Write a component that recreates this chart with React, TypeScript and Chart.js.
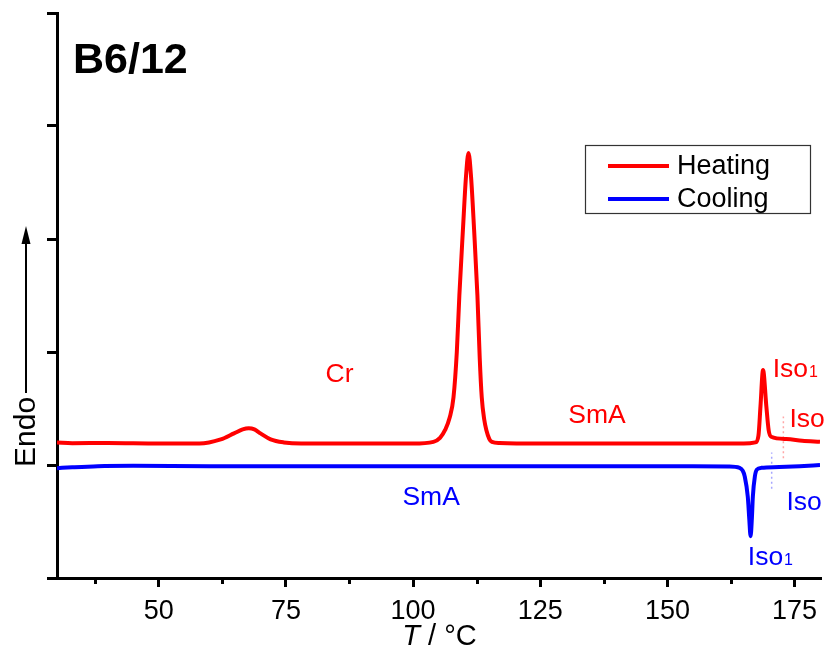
import React, { useEffect, useRef } from "react";
import { Chart, registerables } from "chart.js";

Chart.register(...registerables);

// ---------- data ----------
const seriesLabels = ["Heating", "Cooling"];

const heatT = [
  30, 33, 40, 50, 58, 62.2, 64.8, 66.5, 67.7, 68.8, 70.0, 72.0, 74.6, 78, 90,
  100, 104, 105.3, 106.3, 107.2, 107.95, 108.6, 109.1, 109.8, 110.4, 110.9,
  111.4, 112.0, 112.65, 113.1, 113.5, 114.0, 114.4, 115.0, 115.5, 117, 125,
  140, 155, 165, 167.3, 167.9, 168.3, 168.8, 169.45, 169.9, 170.4, 173.4,
  176.5, 180,
];
const heatV = [
  1.2, 1.193, 1.195, 1.19, 1.19, 1.227, 1.28, 1.315, 1.325, 1.315, 1.28, 1.227,
  1.2, 1.19, 1.19, 1.19, 1.205, 1.24, 1.31, 1.42, 1.6, 2.0, 2.5, 3.08, 3.55,
  3.76, 3.55, 3.08, 2.5, 1.95, 1.6, 1.4, 1.31, 1.23, 1.205, 1.195, 1.19, 1.19,
  1.19, 1.19, 1.2, 1.26, 1.52, 1.84, 1.52, 1.31, 1.25, 1.23, 1.215, 1.205,
];

const coolT = [
  30, 33, 38, 45, 60, 80, 100, 120, 140, 155, 162, 164.2, 164.8, 165.2, 165.8,
  166.1, 166.35, 166.6, 166.8, 167.2, 167.6, 168.5, 172, 176, 180,
];
const coolV = [
  0.972, 0.98, 0.99, 0.993, 0.99, 0.99, 0.99, 0.99, 0.99, 0.99, 0.987, 0.975,
  0.95, 0.9, 0.72, 0.52, 0.37, 0.52, 0.72, 0.9, 0.96, 0.975, 0.982, 0.99, 1.0,
];

// faint dotted transition markers
const heatMarkT = [172.8, 172.8];
const heatMarkV = [1.06, 1.43];
const coolMarkT = [170.5, 170.5];
const coolMarkV = [0.79, 1.11];

const xMajorTicks = [50, 75, 100, 125, 150, 175];
const xMinorTicks = [37.5, 62.5, 87.5, 112.5, 137.5, 162.5];
const yTicks = [0, 1, 2, 3, 4, 5];

const panelTitle = "B6/12";
const yTitle = "Endo";

// phase labels
const phaseLabelText = ["Cr", "SmA", "Iso", "Iso", "SmA", "Iso", "Iso"];
const phaseLabelSub = ["", "", "1", "", "", "", "1"];
const phaseLabelT = [82.8, 130.5, 170.7, 174.0, 97.9, 173.4, 165.8];
const phaseLabelV = [1.735, 1.372, 1.779, 1.336, 0.646, 0.602, 0.115];
const phaseLabelSeries = [0, 0, 0, 0, 1, 1, 1];

const RED = "#ff0000";
const BLUE = "#0000ff";
const FONT = "'Liberation Sans', Arial, Helvetica, sans-serif";

const toPoints = (t: number[], v: number[]) => t.map((x, i) => ({ x, y: v[i] }));

const decorPlugin = {
  id: "decor",
  afterDraw(chart: any) {
    const { ctx, chartArea, scales } = chart;
    const xs = scales.x;
    const ys = scales.y;
    const colors = [RED, BLUE];
    ctx.save();

    // minor x ticks
    ctx.strokeStyle = "#000";
    ctx.lineWidth = 3;
    xMinorTicks.forEach((v) => {
      const px = Math.round(xs.getPixelForValue(v)) + 0.5;
      ctx.beginPath();
      ctx.moveTo(px, chartArea.bottom);
      ctx.lineTo(px, chartArea.bottom + 6);
      ctx.stroke();
    });

    // phase labels
    ctx.textBaseline = "alphabetic";
    ctx.textAlign = "left";
    phaseLabelText.forEach((txt, i) => {
      const px = xs.getPixelForValue(phaseLabelT[i]);
      const py = ys.getPixelForValue(phaseLabelV[i]);
      ctx.fillStyle = colors[phaseLabelSeries[i]];
      ctx.font = `26.5px ${FONT}`;
      ctx.fillText(txt, px, py);
      if (phaseLabelSub[i]) {
        const w = ctx.measureText(txt).width;
        ctx.font = `16px ${FONT}`;
        ctx.fillText(phaseLabelSub[i], px + w + 1, py);
      }
    });

    // panel title
    ctx.fillStyle = "#000";
    ctx.font = `bold 43px ${FONT}`;
    ctx.fillText(panelTitle, 73, 73);

    // legend
    const lx = 585.5, ly = 145.5, lw = 225, lh = 68;
    ctx.strokeStyle = "#333";
    ctx.lineWidth = 1.2;
    ctx.strokeRect(lx, ly, lw, lh);
    const rowY = [166, 199];
    seriesLabels.forEach((lab, i) => {
      ctx.strokeStyle = colors[i];
      ctx.lineWidth = 4;
      ctx.beginPath();
      ctx.moveTo(608, rowY[i]);
      ctx.lineTo(669, rowY[i]);
      ctx.stroke();
      ctx.fillStyle = "#000";
      ctx.font = `27px ${FONT}`;
      ctx.textBaseline = "middle";
      ctx.fillText(lab, 677, rowY[i] + 1);
    });
    ctx.textBaseline = "alphabetic";

    // y title with arrow
    ctx.save();
    ctx.translate(35, 467);
    ctx.rotate(-Math.PI / 2);
    ctx.fillStyle = "#000";
    ctx.font = `30px ${FONT}`;
    ctx.fillText(yTitle, 0, 0);
    ctx.restore();
    ctx.strokeStyle = "#000";
    ctx.lineWidth = 2;
    ctx.beginPath();
    ctx.moveTo(26, 393);
    ctx.lineTo(26, 240);
    ctx.stroke();
    ctx.fillStyle = "#000";
    ctx.beginPath();
    ctx.moveTo(26, 226);
    ctx.lineTo(21.5, 244);
    ctx.lineTo(30.5, 244);
    ctx.closePath();
    ctx.fill();

    // x title: T / °C
    const cx = (chartArea.left + chartArea.right) / 2 + 1;
    ctx.font = `italic 29px ${FONT}`;
    const wT = ctx.measureText("T").width;
    ctx.font = `29px ${FONT}`;
    const rest = " / \u00B0C";
    const wR = ctx.measureText(rest).width;
    const startX = cx - (wT + wR) / 2;
    ctx.font = `italic 29px ${FONT}`;
    ctx.fillText("T", startX, 645);
    ctx.font = `29px ${FONT}`;
    ctx.fillText(rest, startX + wT, 645);

    ctx.restore();
  },
};

export default function App() {
  const canvasRef = useRef<HTMLCanvasElement | null>(null);

  useEffect(() => {
    if (!canvasRef.current) return;
    const chart = new Chart(canvasRef.current, {
      type: "line",
      data: {
        datasets: [
          {
            label: seriesLabels[0],
            data: toPoints(heatT, heatV),
            borderColor: RED,
            borderWidth: 4,
            pointRadius: 0,
            cubicInterpolationMode: "monotone",
            fill: false,
          },
          {
            label: seriesLabels[1],
            data: toPoints(coolT, coolV),
            borderColor: BLUE,
            borderWidth: 4,
            pointRadius: 0,
            cubicInterpolationMode: "monotone",
            fill: false,
          },
          {
            label: "heat-mark",
            data: toPoints(heatMarkT, heatMarkV),
            borderColor: "rgba(255,0,0,0.35)",
            borderWidth: 1.5,
            borderDash: [2, 3],
            pointRadius: 0,
          },
          {
            label: "cool-mark",
            data: toPoints(coolMarkT, coolMarkV),
            borderColor: "rgba(0,0,255,0.35)",
            borderWidth: 1.5,
            borderDash: [2, 3],
            pointRadius: 0,
          },
        ],
      },
      options: {
        animation: false,
        responsive: false,
        maintainAspectRatio: false,
        layout: { padding: { top: 13, right: 7, left: 0, bottom: 0 } },
        plugins: { legend: { display: false }, tooltip: { enabled: false } },
        scales: {
          x: {
            type: "linear",
            min: 30,
            max: 180,
            afterBuildTicks: (scale: any) => {
              scale.ticks = xMajorTicks.map((v) => ({ value: v }));
            },
            afterFit: (scale: any) => {
              scale.height = 86;
            },
            ticks: {
              color: "#000",
              font: { family: FONT, size: 27 },
              padding: 8,
              maxRotation: 0,
              autoSkip: false,
            },
            grid: {
              drawOnChartArea: false,
              drawTicks: true,
              tickLength: 9,
              tickWidth: 3,
              tickColor: "#000",
              lineWidth: 3,
              color: "#000",
            },
            border: { display: true, color: "#000", width: 3 },
          },
          y: {
            type: "linear",
            min: 0,
            max: 5,
            afterBuildTicks: (scale: any) => {
              scale.ticks = yTicks.map((v) => ({ value: v }));
            },
            afterFit: (scale: any) => {
              scale.width = 57;
            },
            ticks: { display: false },
            grid: {
              drawOnChartArea: false,
              drawTicks: true,
              tickLength: 10,
              tickWidth: 3,
              tickColor: "#000",
              lineWidth: 3,
              color: "#000",
            },
            border: { display: true, color: "#000", width: 3 },
          },
        },
      },
      plugins: [decorPlugin],
    } as any);
    return () => chart.destroy();
  }, []);

  return (
    <div style={{ position: "absolute", left: 0, top: 0, width: 827, height: 664, background: "#fff" }}>
      <canvas ref={canvasRef} width={827} height={664} style={{ display: "block" }} />
    </div>
  );
}
